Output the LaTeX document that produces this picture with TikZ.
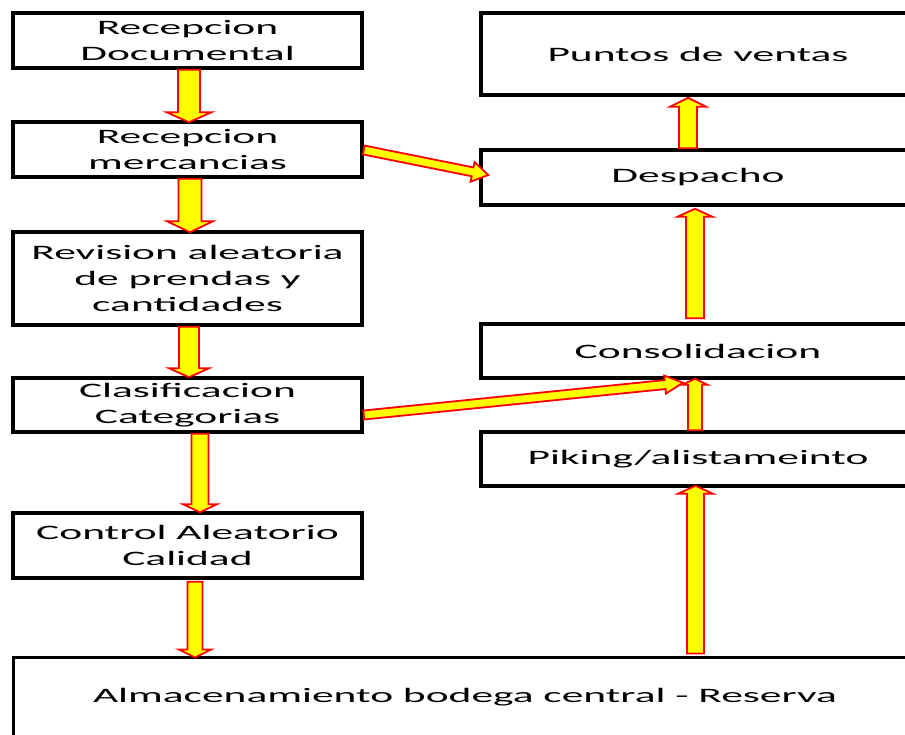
\documentclass[tikz,border=0pt]{standalone}
\usepackage{fontspec}
\usetikzlibrary{calc}
\newfontfamily\bfont[FakeStretch=2.12]{Carlito}
\definecolor{ared}{RGB}{255,0,0}
\definecolor{ayel}{RGB}{255,255,0}
\tikzset{
  box/.style={draw=black, line width=3.5pt, fill=white, rectangle, align=center, inner sep=0pt,
    font=\bfont\fontsize{20.5}{26}\selectfont},
  blockarrow/.style={draw=ared, fill=ayel, line width=1.8pt, line join=miter}
}
\newcommand\barrow[5]{%
  \coordinate (bS) at #1;
  \coordinate (bE) at #2;
  \coordinate (bH) at ($(bE)!#5!(bS)$);
  \draw[blockarrow] ($(bS)!#3!90:(bE)$) -- ($(bH)!#3!-90:(bS)$) -- ($(bH)!#4!-90:(bS)$) -- (bE)
    -- ($(bH)!#4!90:(bS)$) -- ($(bH)!#3!90:(bS)$) -- ($(bS)!#3!-90:(bE)$) -- cycle;
}
\begin{document}
\begin{tikzpicture}[x=1pt,y=-1pt]
\clip (0,0) rectangle (905,734);
\fill[white] (0,0) rectangle (905,734);
% left column
\node[box, minimum width=349pt, minimum height=55pt] (rd) at (187.5,40.5) {Recepcion\\Documental};
\node[box, minimum width=349pt, minimum height=55pt] (rm) at (187.5,149.5) {Recepcion\\mercancias};
\node[box, minimum width=349pt, minimum height=93pt] (rv) at (187.5,278.5) {Revision aleatoria\\de prendas y\\cantidades};
\node[box, minimum width=349pt, minimum height=54pt] (cl) at (187.5,405) {Clasificacion\\Categorias};
\node[box, minimum width=349pt, minimum height=65pt] (ct) at (187.5,545.5) {Control Aleatorio\\Calidad};
% bottom
\node[box, line width=3pt, minimum width=904pt, minimum height=80pt] (al) at (465,697) {Almacenamiento bodega central - Reserva};
% right column
\node[box, minimum width=434pt, minimum height=82pt] (pv) at (698,54) {Puntos de ventas};
\node[box, minimum width=434pt, minimum height=55pt] (de) at (698,177.5) {\raisebox{-2pt}{Despacho}};
\node[box, minimum width=434pt, minimum height=54pt] (co) at (698,351) {\raisebox{-1.5pt}{Consolidacion}};
\node[box, minimum width=434pt, minimum height=54pt] (pk) at (698,459) {\raisebox{-1.5pt}{Piking/alistameinto}};
% arrows
\barrow{($(rd.south)+(1.5,0)$)}{($(rm.north)+(1.5,2)$)}{11pt}{22.5pt}{10pt}
\barrow{($(rm.south)+(2.5,0)$)}{($(rv.north)+(2.5,2)$)}{11.5pt}{23pt}{11pt}
\barrow{($(rv.south)+(1.5,0)$)}{($(cl.north)+(1.5,1)$)}{10pt}{20pt}{9pt}
\barrow{($(cl.south)+(12.5,0)$)}{($(ct.north)+(12.5,1)$)}{8.5pt}{17pt}{8pt}
\barrow{($(ct.south)+(7.5,2)$)}{($(al.north)+(-270,2)$)}{7.5pt}{16pt}{8pt}
\barrow{($(al.north)+(230.5,-2)$)}{($(pk.south)+(-2.5,-2)$)}{8.5pt}{17.5pt}{8pt}
\barrow{($(pk.north)+(-3,0)$)}{($(co.south)+(-3,-1)$)}{7pt}{12.5pt}{6pt}
\barrow{($(co.north)+(-3,-4)$)}{($(de.south)+(-3,2)$)}{9pt}{17.5pt}{8pt}
\barrow{($(de.north)+(-10,0)$)}{($(pv.south)+(-10,1)$)}{9pt}{18pt}{9pt}
\barrow{($(rm.east)+(0,0.5)$)}{($(de.west)+(9,-2.5)$)}{4.5pt}{10pt}{16pt}
\barrow{($(cl.east)+(0,10)$)}{($(co.south)+(-15,3)$)}{4.5pt}{9pt}{18pt}
\end{tikzpicture}
\end{document}
